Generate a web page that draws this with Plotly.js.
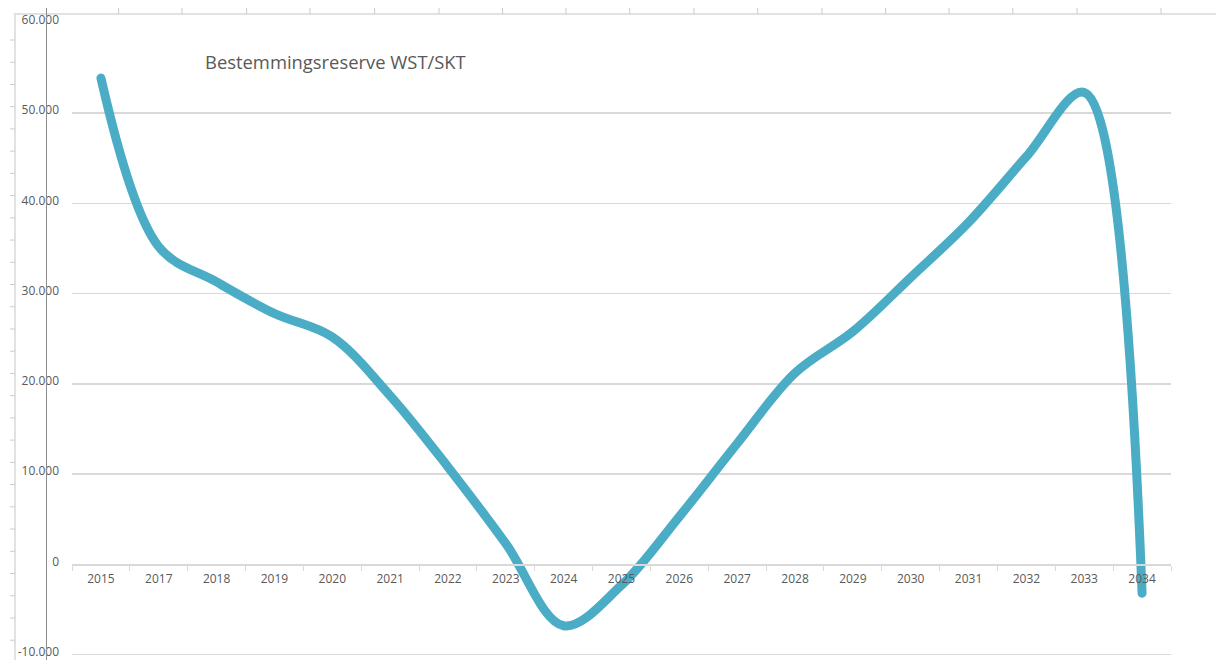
<!DOCTYPE html>
<html>
<head>
<meta charset="utf-8">
<script src="https://cdn.plot.ly/plotly-3.0.1.min.js"></script>
<style>
  html, body { margin: 0; padding: 0; background: #ffffff; }
  #chart { width: 1216px; height: 660px; }
  .scatterlayer .js-line { stroke-linecap: round; stroke-linejoin: round; }
</style>
</head>
<body>
<div id="chart"></div>
<script>
// ---- data ----
const years = ["2015","2017","2018","2019","2020","2021","2022","2023","2024","2025","2026","2027","2028","2029","2030","2031","2032","2033","2034"];
const reserve = [53900, 35200, 31300, 27800, 25200, 18700, 10800, 2300, -6800, -2300, 5300, 13400, 21200, 25800, 31800, 37900, 45200, 52300, -3200];
const yTickVals = [-10000, 0, 10000, 20000, 30000, 40000, 50000, 60000];
const yTickText = ["-10.000", "0", "10.000", "20.000", "30.000", "40.000", "50.000", "60.000"];
const chartTitle = "Bestemmingsreserve WST/SKT";

// ---- layout geometry (pixels) ----
const W = 1216, H = 660;
const M = {l: 72, r: 45, t: 23, b: 0};
const pw = W - M.l - M.r, ph = H - M.t - M.b;
const yMin = -10600, yMax = 60000;
const px = x => (x - M.l) / pw;
const py = y => (H - M.b - y) / ph;

// Spreadsheet ruler decorations around the chart
const shapes = [];
const light = '#d9d9d9';
function seg(x0, y0, x1, y1, color, w) {
  shapes.push({type: 'line', xref: 'paper', yref: 'paper',
    x0: px(x0), y0: py(y0), x1: px(x1), y1: py(y1),
    line: {color: color, width: w || 1}});
}
seg(14, 14, W, 14, light, 1.5);           // top ruler
seg(15, 14, 15, H, light, 1.5);           // left ruler
const topTicks = [118.6, 182, 246.6, 310, 374.6, 439, 502.5, 566, 629.7, 694, 757.7, 822, 885.6, 949, 1012.8, 1077, 1161];
topTicks.forEach(x => seg(x, 8, x, 14, '#cccccc', 1));
for (let y = 40; y < H; y += 22.23) seg(10, y, 15, y, '#cccccc', 1);
seg(46.5, 8, 46.5, H, '#8c8c8c', 1);      // dark vertical rule

const trace = {
  type: 'scatter', mode: 'lines',
  x: years, y: reserve,
  line: {color: '#4bacc6', width: 9, shape: 'spline', smoothing: 1},
  hoverinfo: 'x+y'
};

const layout = {
  width: W, height: H,
  margin: M,
  paper_bgcolor: '#ffffff', plot_bgcolor: '#ffffff',
  showlegend: false,
  font: {family: '"Open Sans", "Noto Sans", sans-serif', color: '#595959', size: 12},
  title: {
    text: chartTitle,
    font: {family: '"Open Sans", "Noto Sans", sans-serif', size: 18.4, color: '#595959'},
    xref: 'paper', yref: 'paper',
    x: px(205), xanchor: 'left',
    y: py(63), yanchor: 'middle'
  },
  xaxis: {
    type: 'category',
    anchor: 'free', position: (0 - yMin) / (yMax - yMin),
    showgrid: false, zeroline: false,
    showline: true, linecolor: light, linewidth: 1.5,
    ticks: 'outside', tickson: 'boundaries', ticklen: 5, tickcolor: light, tickwidth: 1,
    ticklabelstandoff: 3,
    tickfont: {size: 12, color: '#595959'},
    range: [-0.5, years.length - 0.5],
    fixedrange: true
  },
  yaxis: {
    range: [yMin, yMax],
    tickvals: yTickVals, ticktext: yTickText,
    showgrid: true, gridcolor: light, gridwidth: 1.5,
    zeroline: false, showline: false, ticks: '',
    ticklabelstandoff: 12,
    ticklabelshift: -3,
    ticklabeloverflow: 'allow',
    tickfont: {size: 12, color: '#595959'},
    fixedrange: true
  },
  shapes: shapes
};

Plotly.newPlot('chart', [trace], layout, {displayModeBar: false, staticPlot: true});
</script>
</body>
</html>
